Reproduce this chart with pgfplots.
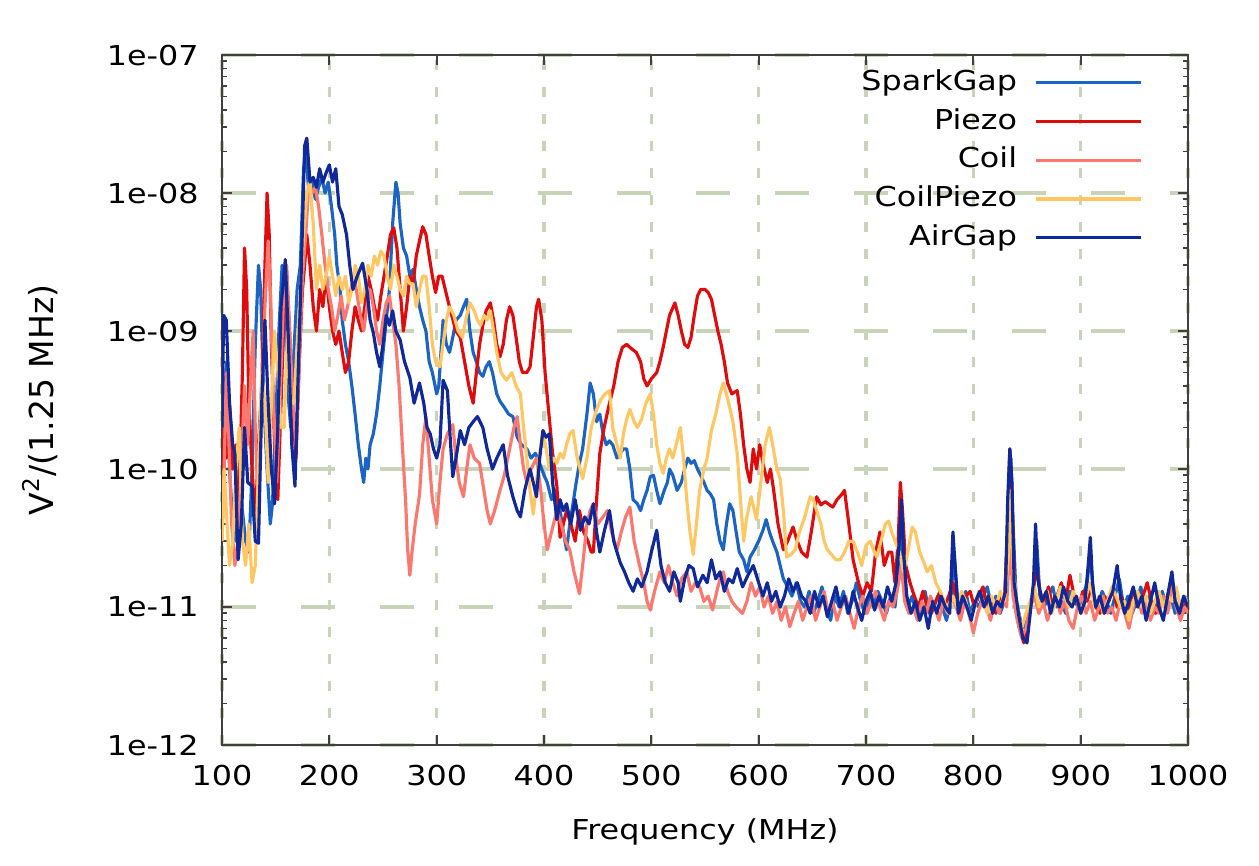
\documentclass[border=0pt]{standalone}
\usepackage{pgfplots}
\pgfplotsset{compat=1.18}
\usepackage{pgfplotstable}
\usepackage{fontspec}
\setmainfont{DejaVu Sans}[FakeStretch=1.16]
\newfontfamily\ylfont{DejaVu Sans}
\newcommand\chartfont{\fontsize{7.8}{9.5}\selectfont}
\definecolor{cSpark}{RGB}{28,100,196}
\definecolor{cPiezo}{RGB}{222,12,12}
\definecolor{cCoil}{RGB}{250,120,110}
\definecolor{cCoilPiezo}{RGB}{255,198,100}
\definecolor{cAir}{RGB}{16,40,152}
\definecolor{gridc}{RGB}{200,212,186}

\pgfplotstableread{
f v
100 1.5e-10
102 2e-10
104 6e-10
107 1e-10
110 4e-11
113 3e-11
116 8e-11
119 5e-11
122 3e-11
125 2.5e-11
128 1e-10
131 8e-10
134 3e-9
136 2e-9
139 3e-10
142 1e-10
145 4e-11
147 5.6e-11
150 2e-10
153 1e-9
156 3e-9
158 2e-9
161 4e-10
164 2e-10
167 7e-10
170 2e-9
173 3e-9
176 1.5e-8
178 2e-8
181 1e-8
184 1.2e-8
187 9e-9
190 1.1e-8
193 1.3e-8
196 1e-8
199 1.2e-8
202 8e-9
205 5e-9
207 3e-9
210 2e-9
212 1.2e-9
215 8e-10
218 6e-10
221 4e-10
224 2.5e-10
227 1.5e-10
230 1e-10
232 8e-11
234 1.2e-10
236 1e-10
238 1.5e-10
241 1.8e-10
244 2.5e-10
247 4e-10
250 7e-10
253 1.2e-9
256 2e-9
259 6e-9
262 1.2e-8
264 1e-8
266 6e-9
269 4e-9
272 3.5e-9
275 2.5e-9
278 2.8e-9
281 2e-9
284 1.5e-9
287 1.2e-9
290 1e-9
293 6e-10
296 5e-10
300 3.5e-10
302 4e-10
304 7e-10
306 1.2e-9
309 8e-10
312 7e-10
315 9e-10
318 1.2e-9
322 1.3e-9
325 1.5e-9
328 1.7e-9
331 1e-9
334 7e-10
337 6e-10
340 5e-10
343 4.7e-10
346 5.5e-10
349 6e-10
352 5e-10
356 3.5e-10
359 3.1e-10
363 2.8e-10
367 2.5e-10
371 2.4e-10
375 1.7e-10
379 1.5e-10
384 1.4e-10
388 1.2e-10
392 1.3e-10
396 1.1e-10
400 9e-11
403 8e-11
407 6e-11
411 7e-11
415 5e-11
418 3.5e-11
421 2.6e-11
424 4e-11
427 5.6e-11
430 8e-11
433 1.1e-10
436 1.4e-10
440 2.5e-10
443 4.2e-10
446 3.5e-10
449 2.2e-10
452 2.5e-10
455 1.8e-10
458 1.5e-10
461 1.6e-10
464 1.5e-10
468 1.2e-10
471 1.3e-10
474 1.4e-10
477 1.4e-10
480 1e-10
483 6e-11
487 5.6e-11
490 5e-11
493 6e-11
496 7e-11
499 8.8e-11
502 9e-11
505 7e-11
508 5.6e-11
512 7e-11
515 8e-11
517 1e-10
520 9e-11
524 7e-11
528 8e-11
531 1e-10
534 1.2e-10
537 1.1e-10
540 1.15e-10
543 1e-10
546 9e-11
549 8e-11
552 7e-11
555 6.6e-11
558 6e-11
561 4e-11
564 3e-11
567 2.6e-11
570 4e-11
573 5.6e-11
576 5e-11
579 3.5e-11
582 2.5e-11
586 2.2e-11
589 1.8e-11
592 2.3e-11
596 2.6e-11
600 3e-11
604 3.6e-11
607 4.3e-11
610 3.5e-11
613 3e-11
617 2.5e-11
620 2e-11
623 1.6e-11
627 1.4e-11
631 1.2e-11
635 1.5e-11
639 1.1e-11
643 1e-11
647 1.3e-11
651 9e-12
655 1.1e-11
659 1.4e-11
663 1e-11
667 8e-12
671 1.2e-11
675 1e-11
679 1.3e-11
683 9e-12
687 1.1e-11
691 1.5e-11
695 1.1e-11
699 9e-12
703 1.2e-11
707 1e-11
711 1.3e-11
715 1.1e-11
719 9e-12
723 1.2e-11
727 1e-11
731 2e-11
733 4e-11
735 1.5e-11
739 1e-11
743 1.2e-11
747 9e-12
751 1.1e-11
755 1.3e-11
759 9e-12
763 1e-11
767 1.2e-11
771 1e-11
775 8e-12
779 1.1e-11
782 2.5e-11
785 1.2e-11
789 1e-11
793 1.3e-11
797 9e-12
801 1.1e-11
805 1e-11
809 1.2e-11
813 1.4e-11
817 1e-11
821 1.2e-11
825 9e-12
829 1.1e-11
833 5e-11
835 1.2e-10
837 4e-11
840 1.1e-11
844 8e-12
848 7e-12
852 1e-11
856 1.3e-11
859 3e-11
862 1.2e-11
866 1e-11
870 1.2e-11
874 1.4e-11
878 1e-11
882 1.1e-11
886 9e-12
890 1.3e-11
894 1.1e-11
898 1e-11
902 1.2e-11
906 1.5e-11
909 2.5e-11
912 1.2e-11
916 1e-11
920 1.3e-11
924 1.1e-11
928 9e-12
932 1.2e-11
936 1.6e-11
940 1e-11
944 1.2e-11
948 9e-12
952 1.1e-11
956 1.4e-11
960 1e-11
964 1.2e-11
968 9e-12
972 1.1e-11
976 1.3e-11
980 1e-11
984 1.2e-11
988 9e-12
992 1.1e-11
996 1e-11
1000 1.2e-11
}\sparkgap

\pgfplotstableread{
f v
100 8e-11
102 2e-10
104 1.2e-10
107 3e-10
110 1e-10
113 1.5e-10
116 6e-11
119 5e-10
121 4e-9
123 2e-9
125 3e-10
128 1e-10
131 4e-11
134 1.5e-10
137 4e-10
140 3e-9
142 1e-8
144 5e-9
146 8e-10
149 1.5e-10
152 6e-11
155 3e-10
158 1.5e-9
160 3e-9
163 1e-9
166 2.5e-10
169 1.2e-10
172 6e-10
175 2e-9
177 3e-9
179 5e-9
182 3e-9
185 1.5e-9
188 1e-9
191 2e-9
194 1.5e-9
197 2.5e-9
200 1.5e-9
203 1e-9
206 8e-10
209 1e-9
212 7e-10
215 5e-10
218 6e-10
221 1e-9
224 1.5e-9
227 1.2e-9
230 1e-9
233 1.5e-9
236 2.5e-9
239 2e-9
242 1.5e-9
245 1.2e-9
248 1.8e-9
251 2.5e-9
254 3.5e-9
257 5e-9
260 5.6e-9
263 4e-9
266 2e-9
269 1e-9
272 1.5e-9
275 2.5e-9
278 2.2e-9
281 3.5e-9
284 4.5e-9
287 5.7e-9
290 5e-9
293 3.5e-9
296 2.5e-9
299 1.9e-9
302 2.5e-9
305 2.5e-9
308 2e-9
311 1.6e-9
314 1.3e-9
318 1e-9
322 9e-10
326 6e-10
330 4e-10
334 3e-10
337 5e-10
340 8e-10
343 1.1e-9
346 1.4e-9
350 1.6e-9
353 1.2e-9
356 8e-10
359 6.5e-10
362 8e-10
365 1.2e-9
368 1.5e-9
371 1.3e-9
374 9e-10
377 6e-10
380 5e-10
384 5e-10
387 5.5e-10
390 9e-10
393 1.5e-9
395 1.7e-9
398 1.2e-9
401 5e-10
405 2.3e-10
408 1.3e-10
412 7.5e-11
415 3.2e-11
418 4e-11
421 5e-11
425 4e-11
429 3e-11
433 5e-11
437 3.5e-11
441 3e-11
444 2.5e-11
446 2.5e-11
449 6e-11
452 1.3e-10
456 2e-10
461 3e-10
465 4e-10
469 6e-10
473 7.6e-10
477 8e-10
481 7.5e-10
486 7e-10
490 6e-10
493 4.5e-10
496 4e-10
500 4.5e-10
505 5e-10
508 6e-10
511 7.6e-10
514 1e-9
517 1.3e-9
522 1.6e-9
525 1.3e-9
528 1e-9
531 8e-10
534 7.6e-10
537 9e-10
540 1.3e-9
543 1.8e-9
546 2e-9
550 2e-9
553 1.9e-9
556 1.7e-9
559 1.3e-9
562 1e-9
565 8e-10
568 6e-10
571 4.2e-10
575 3.5e-10
580 3.7e-10
583 2.5e-10
586 1.5e-10
589 1e-10
592 8e-11
595 1.4e-10
598 1e-10
601 1.5e-10
604 1.1e-10
608 8e-11
611 1e-10
614 7e-11
618 4e-11
623 2.6e-11
627 3e-11
632 3.8e-11
636 3e-11
640 2.5e-11
645 2.3e-11
649 3.5e-11
654 6.3e-11
658 5.5e-11
662 5.8e-11
666 5.5e-11
669 5.3e-11
673 6e-11
677 6.5e-11
680 7e-11
684 4e-11
688 2.2e-11
693 1.5e-11
697 1.2e-11
701 1.5e-11
705 1.3e-11
709 2.5e-11
713 3.5e-11
717 2e-11
721 2.5e-11
724 2.5e-11
727 1.5e-11
730 3e-11
732 8e-11
734 5e-11
737 2e-11
741 1.5e-11
745 1.2e-11
749 1e-11
753 1.3e-11
757 1e-11
761 9e-12
765 1.1e-11
769 1.3e-11
773 1e-11
777 1.2e-11
781 1.5e-11
785 1e-11
789 9e-12
793 1.2e-11
797 1.3e-11
801 1e-11
805 1.2e-11
809 1.4e-11
813 1e-11
817 1.1e-11
821 9e-12
825 1.2e-11
829 1.1e-11
832 4e-11
834 1.4e-10
836 6e-11
839 1e-11
843 7e-12
847 5.5e-12
851 8e-12
855 1.2e-11
859 2e-11
862 1.3e-11
866 1.1e-11
870 1.4e-11
874 1e-11
878 1.2e-11
882 1.5e-11
886 1.1e-11
890 1.7e-11
894 1.2e-11
898 1e-11
902 1.3e-11
906 1.1e-11
910 1.4e-11
914 1e-11
918 9e-12
922 1.2e-11
926 1.1e-11
930 1.4e-11
934 1e-11
938 1.2e-11
942 9e-12
946 1.1e-11
950 1.3e-11
954 1e-11
958 1.2e-11
962 1.5e-11
966 1.1e-11
970 9e-12
974 1.2e-11
978 1e-11
982 1.3e-11
985 1.6e-11
988 1.1e-11
992 9e-12
996 1.1e-11
1000 9e-12
}\piezo

\pgfplotstableread{
f v
100 3e-11
102 1e-10
104 5e-10
106 2e-10
109 4e-11
112 2e-11
115 3e-11
118 1e-10
121 4e-10
124 1.5e-10
127 5e-10
129 1e-9
131 2e-10
134 5e-11
137 3e-10
140 1.5e-9
143 4.5e-9
145 2e-9
148 3e-10
151 8e-11
154 3e-10
157 1.5e-9
160 3e-9
163 1e-9
166 3e-10
169 1.5e-10
172 6e-10
175 2.5e-9
178 5e-9
181 1.2e-8
184 1e-8
187 1.1e-8
190 8e-9
193 5e-9
196 3e-9
199 2e-9
202 1.5e-9
205 1e-9
208 1.3e-9
211 1.8e-9
214 1.2e-9
217 1.5e-9
220 2e-9
223 2.5e-9
226 1.8e-9
229 1.3e-9
232 1e-9
235 1.5e-9
238 2e-9
241 1.5e-9
244 1e-9
247 8e-10
250 1.2e-9
253 1.6e-9
256 1.8e-9
259 1.2e-9
262 8e-10
265 4e-10
268 1.5e-10
271 6e-11
273 2.6e-11
275 1.7e-11
277 2.5e-11
280 4e-11
284 6.5e-11
287 1.5e-10
290 2.4e-10
293 1.2e-10
296 6e-11
300 4e-11
303 8e-11
306 1.4e-10
310 1.8e-10
315 2.1e-10
318 1.2e-10
321 8e-11
325 6.3e-11
328 1e-10
331 1.5e-10
335 1.2e-10
340 1.1e-10
344 7e-11
347 5e-11
350 4e-11
354 5e-11
359 7e-11
363 9e-11
368 1.4e-10
372 2e-10
375 2.4e-10
378 1.5e-10
381 1e-10
384 8e-11
388 1e-10
393 1.2e-10
397 7e-11
400 4e-11
403 2.6e-11
407 3.5e-11
412 5e-11
416 4e-11
420 3e-11
424 2.6e-11
428 1.8e-11
433 1.25e-11
436 2e-11
440 4e-11
443 5e-11
446 5.6e-11
450 4e-11
455 4.5e-11
459 5e-11
463 3.5e-11
468 2.6e-11
472 3.5e-11
476 4.5e-11
480 5.3e-11
484 3e-11
489 2e-11
493 1.5e-11
496 1.1e-11
499 9.5e-12
503 1.3e-11
508 1.8e-11
512 1.5e-11
516 2e-11
520 1.5e-11
524 1.2e-11
528 1.6e-11
533 1.8e-11
537 1.3e-11
541 1.5e-11
545 1.4e-11
549 1.1e-11
553 1.2e-11
557 9.5e-12
561 1.3e-11
564 1.6e-11
567 1.8e-11
571 1.3e-11
575 1.1e-11
579 1e-11
585 9e-12
589 1.1e-11
593 1.5e-11
597 1.2e-11
601 1.4e-11
605 1e-11
609 1.2e-11
613 9e-12
617 1.1e-11
621 8e-12
625 1e-11
629 7.2e-12
633 9e-12
637 1.1e-11
641 8e-12
645 1e-11
649 1.2e-11
653 8e-12
657 1e-11
661 1.3e-11
665 9e-12
669 1.1e-11
673 8e-12
677 1e-11
681 1.2e-11
685 9e-12
689 7e-12
693 1e-11
697 1.2e-11
701 9e-12
705 1.1e-11
709 1.3e-11
713 1e-11
717 8e-12
721 1.1e-11
725 1e-11
729 1.3e-11
733 2e-11
736 1.1e-11
740 9e-12
744 1e-11
748 8e-12
752 1.1e-11
756 9e-12
760 1.2e-11
764 1e-11
768 8e-12
772 1.1e-11
776 9e-12
780 1.2e-11
784 1e-11
788 8e-12
792 1.1e-11
796 9e-12
800 6.5e-12
804 9e-12
808 1.1e-11
812 1e-11
816 8e-12
820 1.1e-11
824 9e-12
828 1.2e-11
831 1e-11
834 3e-11
837 1.2e-11
841 8e-12
845 6e-12
849 7e-12
853 1e-11
857 1.2e-11
861 9e-12
865 1.1e-11
869 8e-12
873 1e-11
877 1.2e-11
881 9e-12
885 1.1e-11
889 8e-12
893 7e-12
897 1e-11
901 1.2e-11
905 9e-12
909 1.1e-11
913 8e-12
917 1e-11
921 1.2e-11
925 9e-12
929 1e-11
933 8e-12
937 1.1e-11
941 9e-12
945 7e-12
949 1e-11
953 1.2e-11
957 9e-12
961 1.1e-11
965 8e-12
969 1e-11
973 9e-12
977 1.2e-11
981 9e-12
985 1.4e-11
989 1e-11
993 8e-12
997 1e-11
1000 9e-12
}\coil

\pgfplotstableread{
f v
100 3e-11
102 1e-10
104 5e-11
107 2e-11
110 3e-11
113 1e-10
116 2e-10
119 3e-11
122 2e-11
125 4e-11
128 1.5e-11
131 2e-11
134 1e-10
137 5e-10
140 3e-10
143 8e-11
146 3e-10
149 1e-9
152 5e-10
155 2e-10
158 2e-10
161 1e-9
164 3e-10
167 3e-10
170 8e-10
173 2e-9
176 5e-9
179 1e-8
182 1.2e-8
185 6e-9
188 2e-9
191 3e-9
194 2e-9
197 2.5e-9
200 3.5e-9
203 2.5e-9
206 1.8e-9
209 2.5e-9
212 2e-9
215 2.5e-9
218 1.6e-9
221 2e-9
224 3e-9
227 2.5e-9
230 1.6e-9
233 2e-9
236 3e-9
239 2.5e-9
242 3.5e-9
245 3e-9
248 3.8e-9
251 3.5e-9
254 2.5e-9
257 2e-9
260 3e-9
263 2.5e-9
266 2e-9
269 1.8e-9
272 2.5e-9
275 2.2e-9
278 2.2e-9
281 1.5e-9
284 2e-9
287 2.5e-9
290 2.5e-9
293 1.5e-9
296 8e-10
299 6e-10
303 5.5e-10
306 8e-10
309 1.2e-9
312 1.5e-9
316 1.3e-9
320 1e-9
324 9e-10
328 1.3e-9
331 1.6e-9
335 1.4e-9
338 1.2e-9
341 1.1e-9
344 1.3e-9
347 1.2e-9
350 1.4e-9
353 1e-9
356 7e-10
360 5e-10
365 4.4e-10
370 5e-10
374 4e-10
378 3.5e-10
381 2e-10
384 1.2e-10
387 7e-11
390 4.7e-11
393 8e-11
396 1.3e-10
399 1.9e-10
402 1.4e-10
405 1e-10
409 1.2e-10
412 1.1e-10
415 1.3e-10
418 1.2e-10
421 1.5e-10
424 1.8e-10
427 1.9e-10
431 1.2e-10
436 8.5e-11
440 1.2e-10
444 2e-10
449 2.7e-10
453 3.2e-10
457 3.5e-10
461 3.7e-10
464 2e-10
468 1.5e-10
471 1.2e-10
474 1.8e-10
477 2.3e-10
480 2.7e-10
484 2.2e-10
487 2e-10
491 2.3e-10
495 3e-10
499 3.5e-10
502 2.5e-10
505 1.5e-10
508 1.1e-10
511 9.3e-11
514 1.2e-10
517 1.4e-10
520 1.2e-10
524 1.6e-10
527 2e-10
530 1.2e-10
533 6e-11
536 3.5e-11
539 2.4e-11
542 4e-11
545 7e-11
549 1e-10
552 1.2e-10
556 1.9e-10
560 2.5e-10
564 3.5e-10
567 4.2e-10
570 3.5e-10
573 2.8e-10
576 2.2e-10
580 1.3e-10
583 6e-11
586 3e-11
589 4.5e-11
593 6.3e-11
598 4.3e-11
602 8e-11
606 1.5e-10
610 2e-10
613 1.5e-10
617 1e-10
620 8.5e-11
623 5e-11
626 2.3e-11
630 2.4e-11
634 2.6e-11
638 3.5e-11
643 4.5e-11
648 6.3e-11
651 6e-11
654 5e-11
658 4e-11
661 3e-11
664 2.6e-11
668 2.4e-11
672 2.2e-11
676 2.2e-11
680 2.5e-11
684 3e-11
688 3e-11
692 2.5e-11
696 2e-11
700 2.8e-11
704 3e-11
707 2.6e-11
710 2.3e-11
714 3e-11
718 4e-11
721 4.2e-11
724 3.5e-11
727 3e-11
731 2.5e-11
735 1.8e-11
739 2.5e-11
743 3.8e-11
746 3.5e-11
750 2.5e-11
753 2.2e-11
757 1.8e-11
761 2e-11
765 1.5e-11
769 1.3e-11
773 1.1e-11
777 9e-12
781 1.2e-11
785 1e-11
789 1.3e-11
793 1.1e-11
797 8e-12
801 1e-11
805 1.3e-11
809 1.1e-11
813 9e-12
817 1.2e-11
821 1e-11
825 1.3e-11
829 1.1e-11
833 2.5e-11
835 7e-11
837 2e-11
841 1e-11
845 7e-12
849 9e-12
853 1.1e-11
857 1.4e-11
861 1e-11
865 1.2e-11
869 1.3e-11
873 9e-12
877 1.1e-11
881 1.4e-11
885 1.2e-11
889 1e-11
893 1.3e-11
897 1.1e-11
901 9e-12
905 1.2e-11
909 1.5e-11
913 1e-11
917 1.2e-11
921 9e-12
925 1.1e-11
929 1.4e-11
933 1.2e-11
937 1e-11
941 1.1e-11
945 8e-12
949 1.1e-11
953 1.3e-11
957 1e-11
961 1.2e-11
965 9e-12
969 1.1e-11
973 1.3e-11
977 1e-11
981 1.2e-11
985 1.1e-11
989 1.4e-11
993 1e-11
997 1.2e-11
1000 1e-11
}\coilpiezo

\pgfplotstableread{
f v
100 2e-10
101.5 1.3e-9
104 1.2e-9
107 3e-10
110 1.5e-10
112 1.3e-10
115 2.2e-11
118 4e-11
121 2e-10
124 8e-11
128 7.5e-11
131 3e-11
134 2.9e-11
137 3e-10
140 1.2e-9
143 3e-10
146 1e-10
149 5.6e-11
152 2e-10
155 1.5e-9
159 3.3e-9
162 8e-10
165 1.5e-10
168 7.5e-11
171 5e-10
174 3e-9
177 2.2e-8
179 2.5e-8
182 1.2e-8
185 1.3e-8
188 1.1e-8
191 1.5e-8
194 1.2e-8
197 1.4e-8
200 1.6e-8
203 1.2e-8
206 1.5e-8
209 8e-9
212 7e-9
216 5e-9
219 3e-9
222 2e-9
226 2.5e-9
231 3.1e-9
235 2e-9
238 1.2e-9
241 9.7e-10
244 7e-10
247 5.5e-10
250 8e-10
253 1.3e-9
256 1.1e-9
259 1.4e-9
262 1e-9
266 8.6e-10
270 6e-10
275 4.6e-10
279 3e-10
284 4.2e-10
288 3e-10
291 2e-10
294 1.8e-10
297 1.4e-10
300 1.2e-10
303 1.5e-10
306 4.4e-10
310 3.7e-10
313 1.5e-10
315 8.8e-11
318 1.2e-10
322 1.9e-10
326 1.5e-10
330 2e-10
334 2.2e-10
338 2.4e-10
343 2e-10
347 1.4e-10
352 1e-10
356 1.2e-10
362 1.5e-10
366 9e-11
371 6.3e-11
375 5e-11
378 4.5e-11
382 7e-11
387 1e-10
390 8e-11
393 6.3e-11
396 1.2e-10
399 1.9e-10
402 1.7e-10
405 1.8e-10
408 8e-11
412 4.3e-11
415 6e-11
418 5e-11
421 5.6e-11
425 4e-11
429 6e-11
434 3.6e-11
438 4.5e-11
442 4e-11
446 5.6e-11
449 3.5e-11
452 2.5e-11
456 3.5e-11
461 5e-11
465 3e-11
468 2.5e-11
471 2.1e-11
475 1.8e-11
479 1.5e-11
483 1.3e-11
487 1.6e-11
491 1.4e-11
496 1.8e-11
500 2.5e-11
505 3.6e-11
509 2e-11
513 1.5e-11
517 1.3e-11
521 1.8e-11
525 1.5e-11
527 1.1e-11
531 1.6e-11
535 2e-11
539 1.9e-11
543 1.4e-11
548 1.7e-11
552 1.5e-11
556 2.2e-11
560 1.6e-11
564 1.8e-11
568 1.3e-11
572 1.6e-11
576 1.5e-11
580 1.9e-11
585 1.4e-11
590 1.7e-11
595 2e-11
600 1.5e-11
604 1.2e-11
608 1.5e-11
612 1.1e-11
616 1.3e-11
620 1e-11
624 1.2e-11
628 1.6e-11
632 1.3e-11
636 1.5e-11
640 1.2e-11
644 1.1e-11
648 9e-12
652 1.3e-11
656 1e-11
660 1.2e-11
664 8.5e-12
668 1.1e-11
672 1.4e-11
676 1e-11
680 1.2e-11
684 9e-12
688 1.3e-11
692 1e-11
696 8e-12
700 1.1e-11
704 1.3e-11
708 9.5e-12
712 1.2e-11
716 1e-11
720 1.4e-11
724 1.1e-11
728 1.5e-11
731 3e-11
733 6e-11
735 2.5e-11
738 1.2e-11
742 9e-12
746 1.1e-11
750 8e-12
754 1e-11
758 7e-12
762 1.1e-11
766 9e-12
770 1.2e-11
774 1e-11
778 9e-12
781 3.5e-11
783 2e-11
786 9e-12
790 1.2e-11
794 1e-11
798 8e-12
802 1.1e-11
806 1.3e-11
810 1e-11
814 1.2e-11
818 9e-12
822 1.1e-11
826 1e-11
830 1.3e-11
832 6e-11
834 1.4e-10
836 8e-11
838 1.5e-11
842 9e-12
846 6e-12
850 5.5e-12
853 9e-12
856 1.5e-11
858 4e-11
860 1.6e-11
864 1.1e-11
868 1.3e-11
872 9e-12
876 1.2e-11
880 1e-11
884 1.4e-11
888 1.1e-11
892 1e-11
896 1.2e-11
900 9e-12
904 1.1e-11
907 2e-11
909 3.2e-11
911 1.5e-11
914 1e-11
918 1.2e-11
922 9e-12
926 1.1e-11
930 1.3e-11
934 2e-11
937 1.2e-11
941 9e-12
945 1.1e-11
949 1.4e-11
953 1e-11
957 1.2e-11
961 8e-12
965 1.1e-11
969 1.5e-11
973 1e-11
977 8e-12
981 1.2e-11
985 1.8e-11
988 1.1e-11
992 9e-12
996 1.2e-11
1000 1e-11
}\airgap

\begin{document}
\begin{tikzpicture}
\begin{axis}[
  scale only axis,
  width=9.66cm, height=6.90cm,
  xmin=100, xmax=1000,
  ymin=1e-12, ymax=1e-7,
  ymode=log,
  xtick={100,200,...,1000},
  xticklabels={100,200,300,400,500,600,700,800,900,1000},
  ytick={1e-12,1e-11,1e-10,1e-9,1e-8,1e-7},
  yticklabels={1e-12,1e-11,1e-10,1e-09,1e-08,1e-07},
  tick label style={font=\chartfont},
  xticklabel style={yshift=-0.08cm},
  yticklabel style={xshift=-0.11cm},
  xlabel={Frequency (MHz)},
  ylabel={V\textsuperscript{2}/(1.25 MHz)},
  xlabel style={font=\chartfont, at={(axis description cs:0.5,-0.1261)}, anchor=center},
  ylabel style={font=\ylfont\fontsize{9.4}{11}\selectfont, at={(axis description cs:-0.1884,0.5)}, anchor=center},
  grid=major,
  x grid style={color=gridc, line width=0.9pt, dash pattern=on 0.1cm off 0.17cm},
  y grid style={color=gridc, line width=0.9pt, dash pattern=on 0.34cm off 0.45cm},
  axis line style={color=black!75, line width=0.6pt},
  major tick length=0.1cm, minor tick length=0.05cm,
  every tick/.style={color=black!75, line width=0.5pt},
  legend plot pos=right,
  legend cell align=right,
  legend style={draw=none, fill=none, font=\chartfont,
    at={(rel axis cs:0.9534,0.990)}, anchor=north east,
    inner sep=0pt, row sep=-0.4pt, column sep=0.1cm},
  legend image code/.code={\draw[#1] (0cm,0cm) -- (1.05cm,0cm);},
  every axis plot/.append style={line width=0.9pt, line join=round},
]
\addplot[color=cSpark] table[x=f,y=v] {\sparkgap};
\addlegendentry{SparkGap}
\addplot[color=cPiezo] table[x=f,y=v] {\piezo};
\addlegendentry{Piezo}
\addplot[color=cCoil] table[x=f,y=v] {\coil};
\addlegendentry{Coil}
\addplot[color=cCoilPiezo] table[x=f,y=v] {\coilpiezo};
\addlegendentry{CoilPiezo}
\addplot[color=cAir] table[x=f,y=v] {\airgap};
\addlegendentry{AirGap}
\end{axis}
\path (current axis.south west) +(-2.22cm,-1.20cm);
\path (current axis.north east) +(0.71cm,0.55cm);
\end{tikzpicture}
\end{document}
